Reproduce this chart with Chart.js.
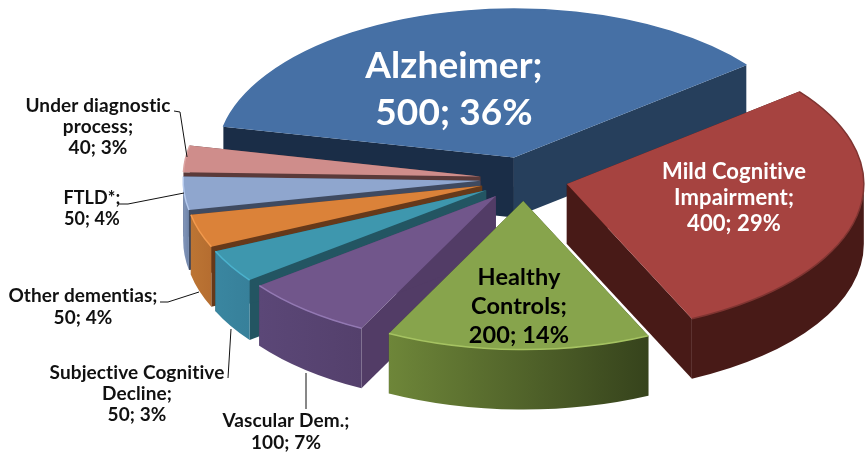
<!DOCTYPE html>
<html>
<head>
<meta charset="utf-8">
<style>
  html, body { margin: 0; padding: 0; background: #fff; }
  #chart { display: block; }
</style>
</head>
<body>
<canvas id="chart" width="866" height="467"></canvas>
<script src="https://cdn.jsdelivr.net/npm/chart.js@4"></script>
<script>
// data
const categories = ["Alzheimer", "Mild Cognitive Impairment", "Healthy Controls", "Vascular Dem.", "Subjective Cognitive Decline", "Other dementias", "FTLD*", "Under diagnostic process"];
const values = [500, 400, 200, 100, 50, 50, 50, 40];
const percents = [36, 29, 14, 7, 3, 4, 4, 3];
const nameLines = [
  ["Alzheimer;"],
  ["Mild Cognitive", "Impairment;"],
  ["Healthy", "Controls;"],
  ["Vascular Dem.;"],
  ["Subjective Cognitive", "Decline;"],
  ["Other dementias;"],
  ["FTLD*;"],
  ["Under diagnostic", "process;"],
];

// look of the slices
const topColors = ["#4670a5", "#a64340", "#87a44c", "#71568b", "#3e97ae", "#db8239", "#8fa6ce", "#cf8d8b"];
const rimColors = ["#4670a5", "#7f3431", "#a6c362", "#9379b3", "#4bb2cd", "#f29a4e", "#b5c9ec", "#dba3a1"];
const arcWallLeft = ["#1a2d47", "#481a17", "#6e8639", "#5b4777", "#3a86a0", "#bc7534", "#8296ba", "#5a3a3a"];
const arcWallRight = ["#1a2d47", "#481a17", "#36431c", "#54406c", "#37809a", "#b56d30", "#6f84a8", "#5a3a3a"];
const startCutColors = ["#1a2d47", "#481a17", "#36431c", "#523c66", "#235562", "#66391a", "#3f4a60", "#5a3a3a"];
const endCutColors = ["#263f5c", "#481a17", "#36431c", "#523c66", "#235562", "#66391a", "#3f4a60", "#5a3a3a"];

// layout of the 3D look
const centerX = 524;
const centerY = 179;
const squash = 0.5;
const explode = 44;
const depth = 60;
const pieRadius = 297;

// text layout: centre x and first baseline, one entry per slice
const labelX = [454, 734, 519, 286, 137, 83, 92, 98];
const labelY = [78, 179, 285, 427, 379, 302, 204, 112];
const labelSize = [37, 22, 23.5, 19, 19, 19, 18, 19];
const labelGap = [47, 26, 29, 22, 21, 22, 21, 21];
const labelColors = ["#fff", "#fff", "#000", "#111", "#111", "#111", "#111", "#111"];

const leaderLines = [
  [[174, 111], [180, 112], [187, 157]],
  [[119, 204], [128, 204], [184, 193]],
  [[160, 302], [168, 302], [199, 292]],
  [[228, 378], [231, 329]],
  [[306, 409], [306, 373]],
];

function apexOf(arc) {
  const mid = (arc.startAngle + arc.endAngle) / 2;
  return {
    x: centerX + Math.cos(mid) * explode,
    y: centerY + Math.sin(mid) * explode * squash,
  };
}

function rimPoint(apex, radius, angle) {
  return {
    x: apex.x + Math.cos(angle) * radius,
    y: apex.y + Math.sin(angle) * radius * squash,
  };
}

function drawCut(ctx, apex, point, color) {
  ctx.beginPath();
  ctx.moveTo(apex.x, apex.y);
  ctx.lineTo(point.x, point.y);
  ctx.lineTo(point.x, point.y + depth);
  ctx.lineTo(apex.x, apex.y + depth);
  ctx.closePath();
  ctx.fillStyle = color;
  ctx.fill();
}

function drawWall(ctx, arc, i) {
  const apex = apexOf(arc);
  const r = arc.outerRadius;
  const a = rimPoint(apex, r, arc.startAngle);
  const b = rimPoint(apex, r, arc.endAngle);
  drawCut(ctx, apex, a, startCutColors[i]);
  drawCut(ctx, apex, b, endCutColors[i]);

  // only the front half of the rim can be seen
  const from = Math.max(arc.startAngle, 0);
  const to = Math.min(arc.endAngle, Math.PI);
  if (from >= to) return;
  const grad = ctx.createLinearGradient(Math.min(a.x, b.x), 0, Math.max(a.x, b.x), 0);
  grad.addColorStop(0, arcWallLeft[i]);
  grad.addColorStop(1, arcWallRight[i]);
  ctx.beginPath();
  ctx.ellipse(apex.x, apex.y, r, r * squash, 0, from, to);
  ctx.ellipse(apex.x, apex.y + depth, r, r * squash, 0, to, from, true);
  ctx.closePath();
  ctx.fillStyle = grad;
  ctx.fill();
}

const pie3d = {
  id: "pie3d",
  // the library's arcs are drawn here, one by one, squashed and pulled apart
  beforeDatasetsDraw(chart) {
    const ctx = chart.ctx;
    const arcs = chart.getDatasetMeta(0).data;
    const order = arcs.map((arc, i) => i).sort((p, q) => apexOf(arcs[p]).y - apexOf(arcs[q]).y);
    order.forEach((i) => drawWall(ctx, arcs[i], i));

    arcs.forEach((arc) => {
      const apex = apexOf(arc);
      ctx.save();
      ctx.translate(apex.x, apex.y);
      ctx.scale(1, squash);
      ctx.translate(-arc.x, -arc.y);
      arc.draw(ctx);
      ctx.restore();
    });

    arcs.forEach((arc, i) => {
      const apex = apexOf(arc);
      ctx.beginPath();
      ctx.ellipse(apex.x, apex.y, arc.outerRadius, arc.outerRadius * squash, 0, arc.startAngle, arc.endAngle);
      ctx.strokeStyle = rimColors[i];
      ctx.lineWidth = 1.5;
      ctx.stroke();
    });
    return false;
  },
  afterDraw(chart) {
    const ctx = chart.ctx;
    ctx.save();
    ctx.strokeStyle = "#111";
    ctx.lineWidth = 1;
    leaderLines.forEach((line) => {
      ctx.beginPath();
      line.forEach((p, k) => (k ? ctx.lineTo(p[0], p[1]) : ctx.moveTo(p[0], p[1])));
      ctx.stroke();
    });
    ctx.textAlign = "center";
    ctx.textBaseline = "alphabetic";
    ctx.letterSpacing = "0.1px"; // keeps Lato from joining "ti"
    categories.forEach((name, i) => {
      const lines = nameLines[i].concat(`${values[i]}; ${percents[i]}%`);
      ctx.font = `bold ${labelSize[i]}px Lato, sans-serif`;
      ctx.fillStyle = labelColors[i];
      lines.forEach((text, k) => ctx.fillText(text, labelX[i], labelY[i] + k * labelGap[i]));
    });
    ctx.restore();
  },
};

new Chart(document.getElementById("chart"), {
  type: "pie",
  data: {
    labels: categories,
    datasets: [{
      data: values,
      backgroundColor: topColors,
      borderWidth: 0,
    }],
  },
  options: {
    responsive: false,
    animation: false,
    rotation: -78,
    radius: pieRadius,
    plugins: {
      legend: { display: false },
      tooltip: { enabled: false },
    },
  },
  plugins: [pie3d],
});
</script>
</body>
</html>
